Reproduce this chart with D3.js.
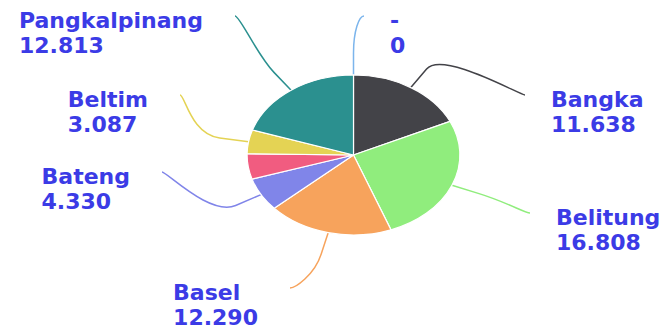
<!DOCTYPE html>
<html>
<head>
<meta charset="utf-8">
<script src="https://cdn.jsdelivr.net/npm/d3@7"></script>
<style>
  body { margin: 0; background: #fff; }
</style>
</head>
<body>
<div class="graph"></div>
<script>
const width = 664;
const height = 333;

// data (thousand separator is "." in the source)
const names = ['-', 'Bangka', 'Belitung', 'Basel', 'Bateng', 'Babar', 'Beltim', 'Pangkalpinang'];
const values = [0, 11638, 16808, 12290, 4330, 3300, 3087, 12813];
const showLabel = [true, true, true, true, true, false, true, true];
const colors = ['#7cb5ec', '#434348', '#90ed7d', '#f7a35c', '#8085e9', '#f15c80', '#e4d354', '#2b908f'];

// layout: pie is stretched horizontally in the reference
const cx = 353.5, cy = 155, r = 80, sx = 1.33;
const labelAnchors = [[364, 16], [525, 95], [530, 213], [290, 288], [162, 172], null, [180, 95], [235, 16]];
const labelColor = '#3b3be6';

const idId = id => id;
const fmt = d3.formatLocale({decimal: ',', thousands: '.', grouping: [3], currency: ['', '']}).format(',d');

const svg = d3.select('.graph').append('svg')
  .attr('width', width)
  .attr('height', height);

const pie = d3.pie().sort(null).value(d => d.value)
  .startAngle(0).endAngle(2 * Math.PI);
const data = names.map((n, i) => ({name: n, value: values[i], color: colors[i], show: showLabel[i], anchor: labelAnchors[i]}));
const arcs = pie(data);

const arc = d3.arc().innerRadius(0).outerRadius(r);

// connectors (Highcharts-like soft connector)
const pt = (a, rad) => [cx + sx * rad * Math.sin(a), cy - rad * Math.cos(a)];
const conn = svg.append('g');
arcs.forEach(a => {
  if (!a.data.show) return;
  const mid = (a.startAngle + a.endAngle) / 2;
  const touch = pt(mid, r);
  const brk = pt(mid, r + 22);
  const lab = a.data.anchor;
  const left = lab[0] < cx;
  const p = d3.path();
  p.moveTo(lab[0], lab[1]);
  p.bezierCurveTo(lab[0] + (left ? 5 : -5), lab[1], 2 * brk[0] - touch[0], 2 * brk[1] - touch[1], brk[0], brk[1]);
  p.lineTo(touch[0], touch[1]);
  conn.append('path')
    .attr('d', p.toString())
    .attr('fill', 'none')
    .attr('stroke', a.data.color)
    .attr('stroke-width', 1.5);
});

// slices
const pieG = svg.append('g')
  .attr('transform', `translate(${cx},${cy}) scale(${sx},1)`);
pieG.selectAll('path')
  .data(arcs)
  .join('path')
  .attr('d', arc)
  .attr('fill', d => d.data.color)
  .attr('stroke', '#fff')
  .attr('stroke-width', 1.2)
  .attr('vector-effect', 'non-scaling-stroke')
  .attr('stroke-linejoin', 'round');

// labels
const labels = svg.append('g')
  .style('font-family', '"DejaVu Sans", Verdana, sans-serif')
  .style('font-weight', 'bold')
  .style('font-size', '22px')
  .attr('fill', labelColor);

arcs.forEach(a => {
  if (!a.data.show) return;
  const lab = a.data.anchor;
  const left = lab[0] < cx;
  const t = labels.append('text');
  t.append('tspan').attr('x', 0).attr('y', 0).text(a.data.name);
  t.append('tspan').attr('x', 0).attr('y', 25).text(fmt(a.data.value));
  const w = t.node().getBBox().width;
  const x = left ? lab[0] - 32 - w : lab[0] + 26;
  t.attr('transform', `translate(${x},${lab[1] + 12})`);
});
</script>
</body>
</html>
